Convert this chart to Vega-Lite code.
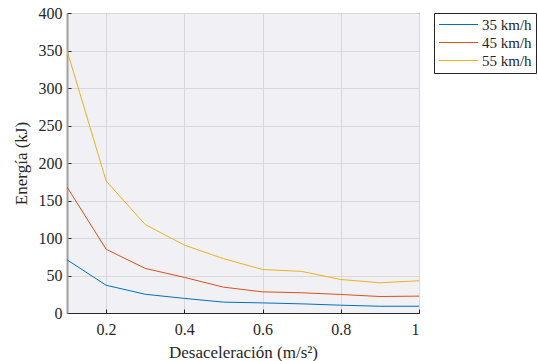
{
  "$schema": "https://vega.github.io/schema/vega-lite/v6.json",
  "width": 352,
  "height": 300,
  "autosize": {"type": "none"},
  "padding": {"left": 67, "top": 13, "right": 119, "bottom": 48},
  "background": "white",
  "config": {
    "view": {"fill": "#F0F0F5", "stroke": "#262626", "strokeWidth": 1},
    "font": "Liberation Serif",
    "axis": {
      "labelFont": "Liberation Serif",
      "titleFont": "Liberation Serif",
      "labelFontSize": 16,
      "titleFontSize": 17,
      "labelColor": "#262626",
      "titleColor": "#262626",
      "titleFontWeight": "normal",
      "gridColor": "#D7D7DC",
      "gridWidth": 1,
      "domainColor": "#262626",
      "tickColor": "#262626",
      "tickSize": -4
    },
    "legend": {
      "labelFont": "Liberation Serif",
      "labelFontSize": 15,
      "labelColor": "#262626"
    }
  },
  "data": {
    "values": [
      {"a": 0.1, "v": "35 km/h", "e": 71},
      {"a": 0.2, "v": "35 km/h", "e": 37},
      {"a": 0.3, "v": "35 km/h", "e": 25},
      {"a": 0.4, "v": "35 km/h", "e": 19.5},
      {"a": 0.5, "v": "35 km/h", "e": 14.5},
      {"a": 0.6, "v": "35 km/h", "e": 13.5},
      {"a": 0.7, "v": "35 km/h", "e": 12.2},
      {"a": 0.8, "v": "35 km/h", "e": 10.4},
      {"a": 0.9, "v": "35 km/h", "e": 9},
      {"a": 1.0, "v": "35 km/h", "e": 9},
      {"a": 0.1, "v": "45 km/h", "e": 168},
      {"a": 0.2, "v": "45 km/h", "e": 85},
      {"a": 0.3, "v": "45 km/h", "e": 59.5},
      {"a": 0.4, "v": "45 km/h", "e": 47.5},
      {"a": 0.5, "v": "45 km/h", "e": 34.5},
      {"a": 0.6, "v": "45 km/h", "e": 28.2},
      {"a": 0.7, "v": "45 km/h", "e": 27},
      {"a": 0.8, "v": "45 km/h", "e": 24.7},
      {"a": 0.9, "v": "45 km/h", "e": 22},
      {"a": 1.0, "v": "45 km/h", "e": 22.5},
      {"a": 0.1, "v": "55 km/h", "e": 350},
      {"a": 0.2, "v": "55 km/h", "e": 176},
      {"a": 0.3, "v": "55 km/h", "e": 118},
      {"a": 0.4, "v": "55 km/h", "e": 90.5},
      {"a": 0.5, "v": "55 km/h", "e": 72.5},
      {"a": 0.6, "v": "55 km/h", "e": 58},
      {"a": 0.7, "v": "55 km/h", "e": 55.5},
      {"a": 0.8, "v": "55 km/h", "e": 44.7},
      {"a": 0.9, "v": "55 km/h", "e": 40.3},
      {"a": 1.0, "v": "55 km/h", "e": 43}
    ]
  },
  "mark": {"type": "line", "strokeWidth": 1, "clip": true},
  "encoding": {
    "x": {
      "field": "a",
      "type": "quantitative",
      "scale": {"domain": [0.1, 1], "nice": false, "zero": false},
      "axis": {
        "title": "Desaceleración (m/s²)",
        "values": [0.2, 0.4, 0.6, 0.8, 1],
        "labelExpr": "format(datum.value, '~g')",
        "labelPadding": 12,
        "titlePadding": 7
      }
    },
    "y": {
      "field": "e",
      "type": "quantitative",
      "scale": {"domain": [0, 400], "nice": false},
      "axis": {
        "title": "Energía (kJ)",
        "values": [0, 50, 100, 150, 200, 250, 300, 350, 400],
        "labelPadding": 9,
        "titlePadding": 8,
        "domainColor": "#A0A0A0",
        "domainWidth": 2
      }
    },
    "color": {
      "field": "v",
      "type": "nominal",
      "scale": {"domain": ["35 km/h", "45 km/h", "55 km/h"], "range": ["#0072BD", "#D95319", "#EDB120"]},
      "legend": {
        "title": null,
        "orient": "right",
        "offset": 15,
        "symbolType": "M-3,0H3",
        "symbolSize": 169,
        "symbolOffset": 13,
        "symbolStrokeWidth": 1,
        "labelOffset": 16,
        "rowPadding": 2,
        "padding": 4,
        "strokeColor": "#262626",
        "fillColor": "white"
      }
    }
  }
}
